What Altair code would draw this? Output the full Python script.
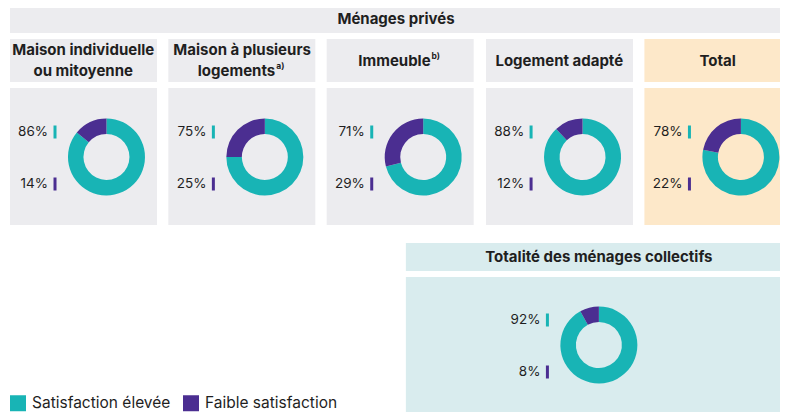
import math
import altair as alt
import pandas as pd

# ---------------- data ----------------
categories = [
    "Maison individuelle ou mitoyenne",
    "Maison à plusieurs logements",
    "Immeuble",
    "Logement adapté",
    "Total",
    "Totalité des ménages collectifs",
]
high_satisfaction = [86, 75, 71, 88, 78, 92]
low_satisfaction = [14, 25, 29, 12, 22, 8]
statuses = ["Satisfaction élevée", "Faible satisfaction"]

# ---------------- styles / layout ----------------
TEAL = "#18b4b5"
PURPLE = "#4b2e91"
GRAY = "#ececef"
PEACH = "#fde8c9"
LTEAL = "#d9ecee"
INK = "#1f1f1f"
FONT = "Inter"

# layout in reference-pixel coordinates (page space)
X0, X1 = 8, 788
Y0, Y1 = 8, 412
W, H = 772, 404
panel_x0 = [10, 170, 330, 491, 651]
panel_w = 148.5
centers = [(x0 + 97.5, 157) for x0 in panel_x0] + [(605, 345)]

xs = alt.Scale(domain=[X0, X1], range=[0, W], nice=False, zero=False)
ys = alt.Scale(domain=[Y0, Y1], range=[0, H], nice=False, zero=False)


def clampx(v):
    return max(X0, min(X1, v))


def clampy(v):
    return max(Y0, min(Y1, v))


# donut data (long form)
rows = []
for i, cat in enumerate(categories):
    cx, cy = centers[i]
    for k, (s, v) in enumerate(zip(statuses, [high_satisfaction[i], low_satisfaction[i]])):
        rows.append(dict(category=cat, status=s, value=v, order=k, cx=cx, cy=cy))
df = pd.DataFrame(rows)

# background boxes
boxes = [dict(x1=10, x2=800, y1=5, y2=33, fill=GRAY)]
for i, x0 in enumerate(panel_x0):
    f = PEACH if i == 4 else GRAY
    boxes.append(dict(x1=x0, x2=x0 + panel_w, y1=39, y2=82, fill=f))
    boxes.append(dict(x1=x0, x2=x0 + panel_w, y1=88, y2=225, fill=f))
boxes.append(dict(x1=410, x2=800, y1=243, y2=271, fill=LTEAL))
boxes.append(dict(x1=410, x2=800, y1=277, y2=430, fill=LTEAL))
boxes = pd.DataFrame(boxes)
for c in ["x1", "x2"]:
    boxes[c] = boxes[c].map(clampx)
for c in ["y1", "y2"]:
    boxes[c] = boxes[c].map(clampy)

# titles
titles_center = pd.DataFrame([
    dict(t="Ménages privés", x=400, y=19),
    dict(t="Maison individuelle", x=84, y=50),
    dict(t="ou mitoyenne", x=84, y=71),
    dict(t="Maison à plusieurs", x=244.5, y=50),
    dict(t="Logement adapté", x=565, y=61),
    dict(t="Total", x=725, y=61),
    dict(t="Totalité des ménages collectifs", x=605, y=257),
])
titles_right = pd.DataFrame([
    dict(t="logements", x=278, y=71),
    dict(t="Immeuble", x=435, y=61),
])
titles_sup = pd.DataFrame([
    dict(t="a)", x=279, y=66),
    dict(t="b)", x=436, y=56),
])

# ---------------- layers ----------------
bg = alt.Chart(boxes).mark_rect().encode(
    x=alt.X("x1:Q", scale=xs, axis=None),
    x2="x2:Q",
    y=alt.Y("y1:Q", scale=ys, axis=None),
    y2="y2:Q",
    color=alt.Color("fill:N", scale=None),
)

base = alt.Chart(df).transform_window(
    cum="sum(value)", groupby=["category"], sort=[alt.SortField("order")], frame=[None, 0]
).transform_calculate(
    t0="datum.cum - datum.value",
    t1="datum.cum",
)

arcs = base.mark_arc(radius=38.5, radius2=23, stroke=None).encode(
    x=alt.X("cx:Q", scale=xs, axis=None),
    y=alt.Y("cy:Q", scale=ys, axis=None),
    theta=alt.Theta("t0:Q", stack=False, scale=alt.Scale(domain=[0, 100], range=[0, 2 * math.pi])),
    theta2="t1:Q",
    color=alt.Color(
        "status:N",
        scale=alt.Scale(domain=statuses, range=[TEAL, PURPLE]),
        legend=alt.Legend(
            orient="none",
            legendX=2,
            legendY=387,
            direction="horizontal",
            title=None,
            symbolType="square",
            symbolSize=256,
            symbolStrokeWidth=0,
            symbolOpacity=1,
            labelFont=FONT,
            labelFontSize=15.5,
            labelColor=INK,
            labelOffset=6,
            columnPadding=12,
            padding=0,
        ),
    ),
)

lab = alt.Chart(df).transform_calculate(
    lx="datum.cx - 59",
    ly="datum.order == 0 ? datum.cy - 25 : datum.cy + 27",
    tx="datum.cx - 52",
    txt="datum.value + '%'",
    tcol="datum.order == 0 ? '%s' : '%s'" % (TEAL, PURPLE),
).transform_calculate(
    ty1="datum.ly - 6.5",
    ty2="datum.ly + 6.5",
)

pct = lab.mark_text(align="right", baseline="middle", font=FONT, fontSize=13.5, color=INK).encode(
    x=alt.X("lx:Q", scale=xs, axis=None),
    y=alt.Y("ly:Q", scale=ys, axis=None),
    text="txt:N",
)

ticks = lab.mark_rule(strokeWidth=3).encode(
    x=alt.X("tx:Q", scale=xs, axis=None),
    y=alt.Y("ty1:Q", scale=ys, axis=None),
    y2="ty2:Q",
    color=alt.Color("tcol:N", scale=None),
)


def title_layer(data, align, size, weight):
    return alt.Chart(data).mark_text(
        align=align, baseline="middle", font=FONT, fontSize=size, fontWeight=weight, color=INK
    ).encode(
        x=alt.X("x:Q", scale=xs, axis=None),
        y=alt.Y("y:Q", scale=ys, axis=None),
        text="t:N",
    )


tc = title_layer(titles_center, "center", 15, 700)
tr = title_layer(titles_right, "right", 15, 700)
tsup = title_layer(titles_sup, "left", 8.5, 700)

chart = alt.layer(bg, arcs, ticks, pct, tc, tr, tsup).properties(
    width=W,
    height=H,
    padding=0,
    autosize=alt.AutoSizeParams(type="none"),
).configure_view(strokeWidth=0)

chart.save("out.html", embed_options={"renderer": "svg", "actions": False})
